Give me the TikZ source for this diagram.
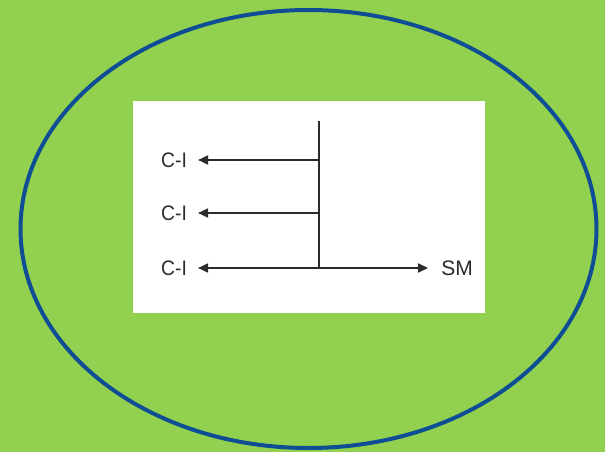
\documentclass[tikz,border=0pt]{standalone}
\usepackage{fontspec}
\setmainfont{Liberation Sans}
\usetikzlibrary{arrows.meta}
\definecolor{bggreen}{HTML}{92D050}
\definecolor{ringblue}{HTML}{0F4E94}
\definecolor{inkgray}{HTML}{2B2B2B}
\tikzset{
  lbl/.style={font=\fontsize{21}{24}\selectfont, text=inkgray, inner sep=0pt},
  arr/.style={draw=inkgray, line width=1.8pt, -{Triangle[length=10pt,width=9pt]}},
  stem/.style={draw=inkgray, line width=1.8pt}
}
\begin{document}
\begin{tikzpicture}[x=1pt,y=-1pt]
\fill[bggreen] (0,0) rectangle (605,452);
\useasboundingbox (0,0) rectangle (605,452);
\draw[ringblue, line width=4pt] (308.5,229) ellipse [x radius=288, y radius=219];
\fill[white] (133,101) rectangle (485,313);
\node[lbl, xscale=0.92] (c1) at (174,160) {C-I};
\node[lbl, xscale=0.92] (c2) at (174,213) {C-I};
\node[lbl, xscale=0.92] (c3) at (174,268) {C-I};
\node[lbl] (sm) at (457,268) {SM};
\coordinate (top) at (319,121);
\coordinate (j1) at (319,160);
\coordinate (j2) at (319,213);
\coordinate (j3) at (319,268);
\draw[stem] (top) -- (j3);
\draw[arr] (j1) -- ([xshift=11pt]c1.east);
\draw[arr] (j2) -- ([xshift=11pt]c2.east);
\draw[arr] (j3) -- ([xshift=11pt]c3.east);
\draw[arr] (j3) -- ([xshift=-13pt]sm.west);
\end{tikzpicture}
\end{document}
